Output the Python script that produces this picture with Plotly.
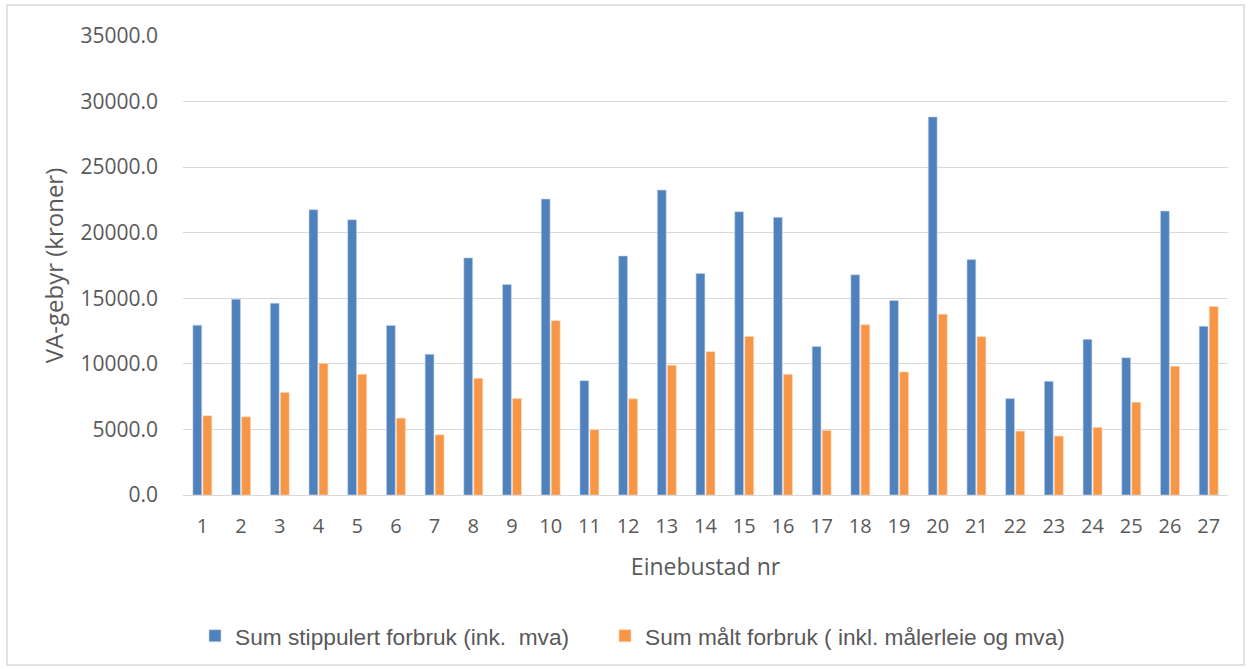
import plotly.graph_objects as go

# Einebustad number on the x axis
houses = [str(i) for i in range(1, 28)]

# Sum of estimated (stipulated) consumption, incl. VAT
stipulert = [12950, 14930, 14630, 21760, 20990, 12930, 10730, 18080, 16050,
             22570, 8720, 18230, 23250, 16890, 21600, 21170, 11330, 16790,
             14830, 28830, 17950, 7350, 8670, 11870, 10470, 21650, 12860]

# Sum of metered consumption, incl. meter rent and VAT
maalt = [6040, 5960, 7810, 10020, 9200, 5860, 4590, 8900, 7350,
         13290, 4970, 7330, 9890, 10930, 12090, 9200, 4920, 12980,
         9380, 13790, 12070, 4870, 4490, 5150, 7070, 9810, 14380]

y_ticks = [0, 5000, 10000, 15000, 20000, 25000, 30000, 35000]

BLUE = "#4F81BD"
ORANGE = "#F79646"
TEXT = "#595959"
GRID = "#D9D9D9"

fig = go.Figure()
fig.add_trace(go.Bar(
    x=houses, y=stipulert, name="Sum stippulert forbruk (ink.  mva)",
    marker=dict(color=BLUE, line=dict(color="#C9D6EA", width=0.6)),
    legend="legend",
))
fig.add_trace(go.Bar(
    x=houses, y=maalt, name="Sum målt forbruk ( inkl. målerleie og mva)",
    marker=dict(color=ORANGE, line=dict(color="#FBD5B5", width=0.6)),
    legend="legend2",
))

W, H = 1253, 669
L, R, T, B = 183, 25, 36, 174
pw, ph = W - L - R, H - T - B


def px_x(p):
    return (p - L) / pw


def px_y(p):
    return (H - B - p) / ph


legend_font = dict(family="Liberation Sans Narrow, Arial Narrow, sans-serif",
                   size=22.7, color=TEXT)

fig.update_layout(
    width=W, height=H,
    margin=dict(l=L, r=R, t=T, b=B),
    paper_bgcolor="white", plot_bgcolor="white",
    barmode="group", bargap=0.48, bargroupgap=0.12,
    font=dict(family="Open Sans, sans-serif", size=16, color=TEXT),
    showlegend=True,
    legend=dict(
        orientation="h", x=px_x(195), xanchor="left",
        y=px_y(636), yanchor="middle", font=legend_font,
    ),
    legend2=dict(
        orientation="h", x=px_x(605), xanchor="left",
        y=px_y(636), yanchor="middle", font=legend_font,
    ),
    xaxis=dict(
        type="category", showgrid=False,
        showline=True, linecolor=GRID, linewidth=1,
        ticks="", ticklabelstandoff=13,
        tickfont=dict(size=20, color=TEXT),
        title=dict(text="Einebustad nr", font=dict(size=23, color=TEXT), standoff=20),
    ),
    yaxis=dict(
        range=[0, 35000], tickvals=y_ticks, tickformat=".1f",
        showgrid=True, gridcolor=GRID, gridwidth=1.2,
        zeroline=False, showline=False,
        ticks="", ticklabelstandoff=24,
        tickfont=dict(size=21, color=TEXT),
        title=dict(text="VA-gebyr (kroner)", font=dict(size=24, color=TEXT), standoff=10),
    ),
    shapes=[dict(
        type="rect", xref="paper", yref="paper",
        x0=px_x(7), x1=px_x(1244), y0=px_y(665), y1=px_y(5),
        line=dict(color=GRID, width=1.5), fillcolor="rgba(0,0,0,0)", layer="below",
    )],
)

fig.write_html("out.html")
